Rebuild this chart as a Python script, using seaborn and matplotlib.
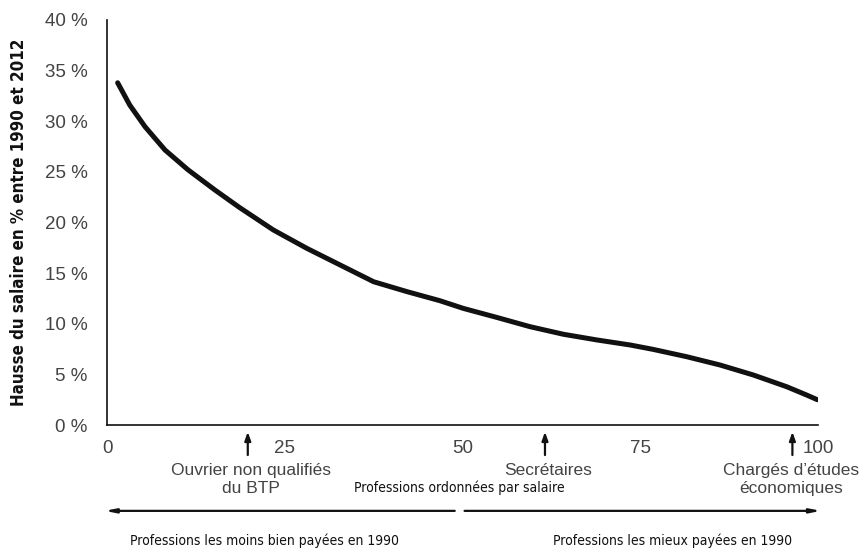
import matplotlib
matplotlib.use("Agg")
import matplotlib.pyplot as plt
import seaborn as sns
import pandas as pd

# Data
rank = [1.5, 3.2, 5.35, 8.16, 11.4, 15.2, 18.6, 23.4, 28.1, 32.8, 37.5, 42.2, 46.8,
        50.1, 54.8, 59.5, 64.2, 68.9, 73.6, 76.8, 81.5, 86.2, 90.9, 95.6, 98.4, 99.9]
hausse = [33.8, 31.6, 29.46, 27.16, 25.2, 23.2, 21.5, 19.26, 17.45, 15.8, 14.15, 13.17, 12.28,
          11.52, 10.63, 9.71, 8.96, 8.4, 7.9, 7.47, 6.75, 5.93, 4.94, 3.78, 2.96, 2.5]
x_ticks = [0, 25, 50, 75, 100]
x_tick_labels = ["0", "25", "50", "75", "100"]
y_ticks = [0, 5, 10, 15, 20, 25, 30, 35, 40]
y_tick_labels = [f"{v} %" for v in y_ticks]
markers_x = [19.8, 61.6, 96.4]
markers_lbl = ["Ouvrier non qualifiés\ndu BTP", "Secrétaires", "Chargés d\u2019études\néconomiques"]

sns.set_style("white")
plt.rcParams["font.family"] = ["Liberation Sans", "DejaVu Sans"]
cond = dict(family="DejaVu Sans", fontstretch="condensed")

fig = plt.figure(figsize=(8.63, 5.49), dpi=100)
ax = fig.add_axes([107/863, 1-425/549, (818-107)/863, (425-20)/549])

df = pd.DataFrame({"rank": rank, "hausse": hausse})
sns.lineplot(data=df, x="rank", y="hausse", ax=ax, color="#111111", linewidth=3.6)
for l in ax.lines:
    l.set_solid_capstyle("round")
    l.set_solid_joinstyle("round")

grey = "#444444"
ax.set_xlim(0, 100)
ax.set_ylim(0, 40)
ax.set_xticks(x_ticks)
ax.set_xticklabels(x_tick_labels, fontsize=13.5, color=grey)
ax.set_yticks(y_ticks)
ax.set_yticklabels(y_tick_labels, fontsize=13.5, color=grey)
ax.tick_params(axis="x", direction="in", length=6, width=1.2, color="#111111", pad=11)
ax.tick_params(axis="y", length=0, pad=14)
for s in ["top", "right"]:
    ax.spines[s].set_visible(False)
for s in ["left", "bottom"]:
    ax.spines[s].set_color("#111111")
    ax.spines[s].set_linewidth(1.2)
ax.set_xlabel("")
ax.set_ylabel("Hausse du salaire en % entre 1990 et 2012", fontsize=12.2,
              fontweight="bold", labelpad=12, color="#111111", **cond)

trans = ax.get_xaxis_transform()
for mx in markers_x:
    ax.annotate("", xy=(mx, -0.010), xycoords=trans, xytext=(mx, -0.081), textcoords=trans,
                arrowprops=dict(arrowstyle="-|>,head_length=0.5,head_width=0.18", color="#111111", lw=1.6),
                annotation_clip=False)

ax.text(20.2, -0.093, markers_lbl[0], transform=trans, ha="center", va="top",
        fontsize=12.5, color=grey, linespacing=1.3)
ax.text(62.0, -0.093, markers_lbl[1], transform=trans, ha="center", va="top",
        fontsize=12.5, color=grey)
ax.text(96.2, -0.093, markers_lbl[2], transform=trans, ha="center", va="top",
        fontsize=12.5, color=grey, linespacing=1.3)

ax.text(49.5, -0.155, "Professions ordonnées par salaire", transform=trans, ha="center",
        va="center", fontsize=10, color="#111111", **cond)

# bottom arrows
ax.annotate("", xy=(-0.7, -0.212), xycoords=trans, xytext=(49.3, -0.212), textcoords=trans,
            arrowprops=dict(arrowstyle="-|>,head_length=0.6,head_width=0.12", color="#111111", lw=1.6),
            annotation_clip=False)
ax.annotate("", xy=(100.8, -0.212), xycoords=trans, xytext=(49.9, -0.212), textcoords=trans,
            arrowprops=dict(arrowstyle="-|>,head_length=0.6,head_width=0.12", color="#111111", lw=1.6),
            annotation_clip=False)
ax.text(22.2, -0.286, "Professions les moins bien payées en 1990", transform=trans,
        ha="center", va="center", fontsize=10, color="#111111", **cond)
ax.text(79.6, -0.286, "Professions les mieux payées en 1990", transform=trans,
        ha="center", va="center", fontsize=10, color="#111111", **cond)

fig.savefig("out.png", dpi=100)
